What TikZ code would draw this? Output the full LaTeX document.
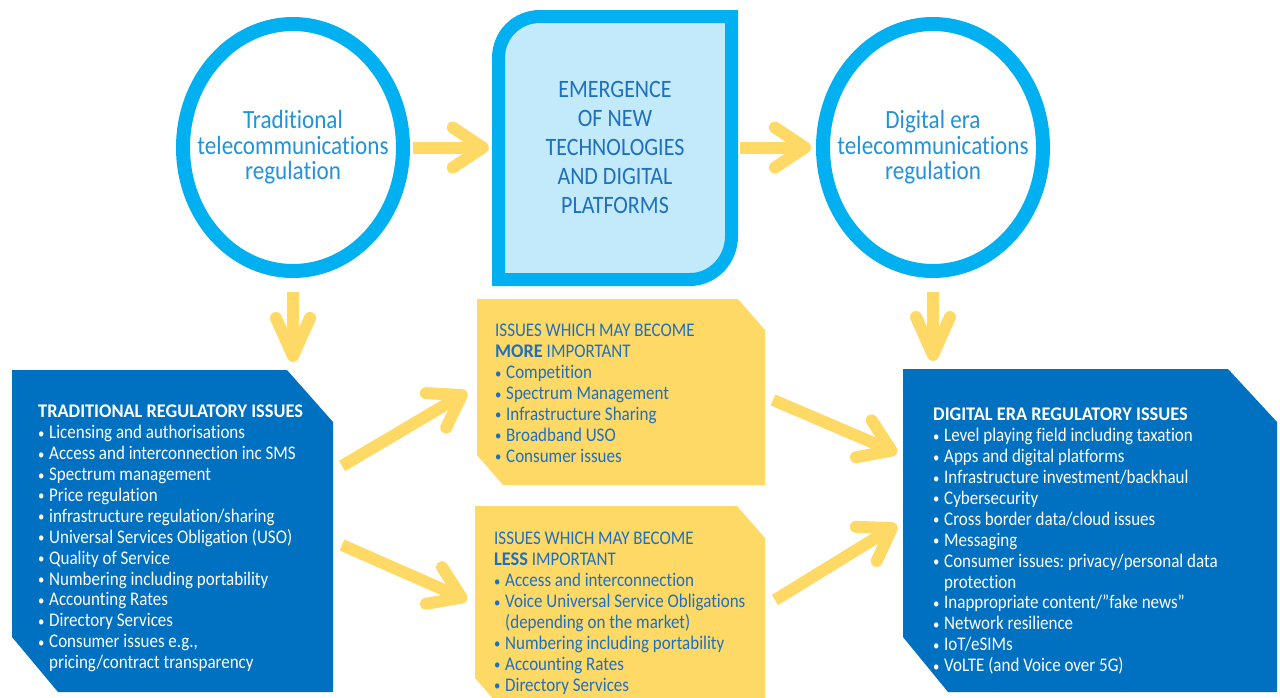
\documentclass[tikz,border=0pt]{standalone}
\usepackage{fontspec}
\usepackage{graphicx}
\setmainfont{Carlito}[FakeStretch=0.88,Ligatures=NoCommon,BoldFeatures={FakeStretch=0.95}]
\usetikzlibrary{arrows.meta,shapes.geometric}
\definecolor{cyanring}{HTML}{00B0F0}
\definecolor{lightfill}{HTML}{C2EAFA}
\definecolor{darkbox}{HTML}{0070C0}
\definecolor{yel}{HTML}{FFD966}
\definecolor{ringtext}{HTML}{2293D9}
\definecolor{boxtext}{HTML}{1F6FBF}
\newcommand{\bul}{\makebox[11pt][l]{\raisebox{0.5pt}{\scalebox{0.75}{•}}}}
\newcommand{\cnt}{\hspace*{11pt}}
\frenchspacing
\begin{document}
\begin{tikzpicture}[x=1pt,y=-1pt,
  ring/.style={ellipse,draw=cyanring,line width=14pt,fill=white,inner sep=0pt,
    minimum width=220pt,minimum height=247pt},
  ringlabel/.style={align=center,text=ringtext,inner sep=0pt,
    font=\fontsize{26.3}{25.5}\selectfont},
  flow/.style={draw=yel,line width=12pt,-{Straight Barb[length=30pt,width=40pt,round]}},
  flowdown/.style={draw=yel,line width=12pt,-{Straight Barb[length=38pt,width=34pt,round]}},
  boxanchor/.style={draw=none,inner sep=0pt,outer sep=0pt},
  listtext/.style={anchor=north west,inner sep=0pt,align=left,
    font=\fontsize{19.3}{20.9}\selectfont},
]
\useasboundingbox (0,0) rectangle (1280,697);

% top row
\node[ring] (trad) at (293,147.5) {};
\node[ringlabel] (tradtext) at (293,147.5) {Traditional\\telecommunications\\regulation};
\node[ring] (dig) at (933,147.5) {};
\node[ringlabel] (digtext) at (933,147.5) {Digital era\\telecommunications\\regulation};

\draw[cyanring,line width=13pt,fill=lightfill]
  (498.5,279.5) -- (498.5,58) .. controls (498.5,34.5) and (517,16.5) .. (540,16.5)
  -- (731.5,16.5) -- (731.5,236) .. controls (731.5,260) and (713,279.5) .. (690,279.5) -- cycle;
\node[inner sep=0pt,minimum width=246pt,minimum height=276pt,align=center,text=boxtext,
  font=\fontsize{25}{29}\selectfont] (emerg) at (615,147.5)
  {EMERGENCE\\OF NEW\\TECHNOLOGIES\\AND DIGITAL\\PLATFORMS};

% boxes
\fill[darkbox] (12,370) -- (287,370) -- (333,422) -- (333,692) -- (58,692) -- (12,637) -- cycle;
\node[boxanchor,minimum width=321pt,minimum height=322pt] (trb) at (172.5,531) {};
\fill[yel] (477,299) -- (738,299) -- (765,330) -- (765,485) -- (503,485) -- (477,455) -- cycle;
\node[boxanchor,minimum width=288pt,minimum height=186pt] (ymore) at (621,392) {};
\fill[yel] (475,506) -- (737,506) -- (765,538) -- (765,710) -- (503,710) -- (475,678) -- cycle;
\node[boxanchor,minimum width=290pt,minimum height=204pt] (yless) at (620,608) {};
\fill[darkbox] (903,369) -- (1228,369) -- (1277,422) -- (1277,692) -- (948,692) -- (903,637) -- cycle;
\node[boxanchor,minimum width=374pt,minimum height=323pt] (drb) at (1090,530.5) {};

\node[listtext,text=white] (trbtext) at (38,403) {\strut\textbf{TRADITIONAL REGULATORY ISSUES}\\
\bul Licensing and authorisations\\
\bul Access and interconnection inc SMS\\
\bul Spectrum management\\
\bul Price regulation\\
\bul infrastructure regulation/sharing\\
\bul Universal Services Obligation (USO)\\
\bul Quality of Service\\
\bul Numbering including portability\\
\bul Accounting Rates\\
\bul Directory Services\\
\bul Consumer issues e.g.,\\
\cnt pricing/contract transparency};

\node[listtext,text=boxtext] (ymoretext) at (495,322) {\strut ISSUES WHICH MAY BECOME\\
\textbf{MORE} IMPORTANT\\
\bul Competition\\
\bul Spectrum Management\\
\bul Infrastructure Sharing\\
\bul Broadband USO\\
\bul Consumer issues};

\node[listtext,text=boxtext] (ylesstext) at (494,530) {\strut ISSUES WHICH MAY BECOME\\
\textbf{LESS} IMPORTANT\\
\bul Access and interconnection\\
\bul Voice Universal Service Obligations\\
\cnt (depending on the market)\\
\bul Numbering including portability\\
\bul Accounting Rates\\
\bul Directory Services};

\node[listtext,text=white] (drbtext) at (933,406) {\strut\textbf{DIGITAL ERA REGULATORY ISSUES}\\
\bul Level playing field including taxation\\
\bul Apps and digital platforms\\
\bul Infrastructure investment/backhaul\\
\bul Cybersecurity\\
\bul Cross border data/cloud issues\\
\bul Messaging\\
\bul Consumer issues: privacy/personal data\\
\cnt protection\\
\bul Inappropriate content/”fake news”\\
\bul Network resilience\\
\bul IoT/eSIMs\\
\bul VoLTE (and Voice over 5G)};

% arrows
\draw[flow,shorten <=3pt,shorten >=3pt] (trad.east) -- (emerg.west);
\draw[flow,shorten <=2pt,shorten >=5pt] (emerg.east) -- (dig.west);
\draw[flowdown,shorten <=14pt,shorten >=8pt] (trad.south) -- (trad.south |- trb.north);
\draw[flowdown,shorten <=14pt,shorten >=8pt] (dig.south) -- (dig.south |- drb.north);
\draw[flow] ([xshift=9pt,yshift=65pt]trb.east) -- ([xshift=-10pt]ymore.west);
\draw[flow] ([xshift=9pt,yshift=-14pt]trb.east) -- ([xshift=-8pt,yshift=8pt]yless.west);
\draw[flow] ([xshift=8pt,yshift=-8pt]ymore.east) -- ([xshift=-6pt,yshift=77.5pt]drb.west);
\draw[flow] ([xshift=10pt,yshift=8pt]yless.east) -- ([xshift=-6pt,yshift=5.5pt]drb.west);
\end{tikzpicture}
\end{document}
